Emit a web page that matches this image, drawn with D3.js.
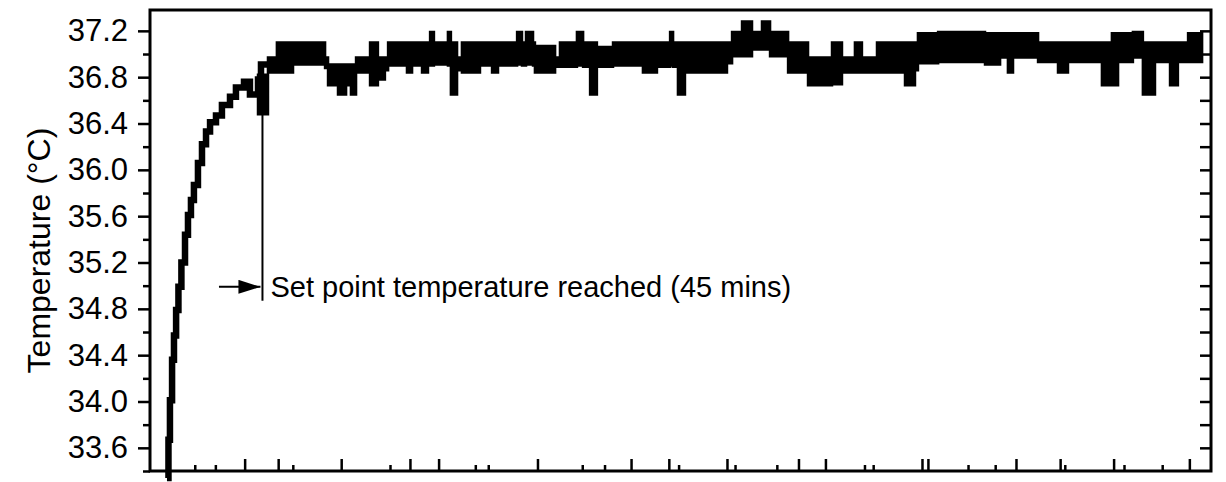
<!DOCTYPE html>
<html>
<head>
<meta charset="utf-8">
<script src="https://cdn.jsdelivr.net/npm/d3@7"></script>
<style>
    body { margin: 0; background: #fff; }
    svg { display: block; font-family: "Liberation Sans", Arial, Helvetica, sans-serif; }
</style>
</head>
<body>
<div id="chart"></div>
<script>
const WIDTH = 1226, HEIGHT = 482;
const MARGIN = { top: 10, right: 15, bottom: 11, left: 150 };
const INNER_WIDTH = WIDTH - MARGIN.left - MARGIN.right;
const INNER_HEIGHT = HEIGHT - MARGIN.top - MARGIN.bottom;

// time axis in minutes, temperature in °C
const X_DOMAIN = [-8, 492];
const Y_DOMAIN = [33.4, 37.38];

// warm-up curve
const riseTime = [0, 0.7, 1.4, 2.4, 3.3, 4.3, 5.4, 6.8, 8.5, 9.9, 11.3, 12.7, 14.6, 16.5, 18.4, 20.3, 23.1, 25.9, 29.7, 32.5, 36.3, 39.1, 42.9, 44.3, 47.6];
const riseTemp = [33.34, 33.67, 34.01, 34.36, 34.57, 34.79, 34.99, 35.20, 35.44, 35.61, 35.74, 35.87, 36.06, 36.22, 36.33, 36.41, 36.47, 36.56, 36.63, 36.71, 36.76, 36.65, 36.78, 36.91, 36.92];

// plateau: reading toggles between a high and a low value in each step
const plateauTime = [
    42.9, 47.6, 51.8, 59.4, 74.5, 75.9, 80.6, 84.4, 86.7, 89.1,
    95.7, 99.4, 102.7, 104.2, 113.1, 115.5, 120.2, 123.0, 124.0, 125.8,
    132.4, 133.8, 136.7, 139.0, 147.5, 153.2, 156.0, 165.0, 167.3, 169.2,
    172.5, 173.4, 182.9, 185.2, 193.2, 196.1, 199.4, 202.6, 210.2, 224.3,
    230.9, 237.1, 238.5, 240.8, 244.1, 263.9, 266.3, 271.0, 275.7, 280.4,
    284.2, 292.7, 302.1, 313.4, 318.1, 324.2, 327.5, 334.6, 347.8, 352.5,
    353.9, 363.4, 385.5, 392.6, 396.3, 398.7, 410.5, 419.9, 424.6, 440.6,
    445.3, 448.2, 455.2, 459.9, 465.6, 472.7, 476.4, 481.2, 487.8
];
const plateauHigh = [
    36.82, 36.97, 37.10, 37.10, 36.97, 36.91, 36.91, 36.91, 36.91, 36.97,
    37.10, 36.97, 36.97, 37.10, 37.10, 37.10, 37.10, 37.10, 37.19, 37.10,
    37.19, 37.10, 36.97, 37.10, 37.10, 37.10, 37.10, 37.19, 37.10, 37.19,
    37.10, 37.07, 36.97, 37.10, 37.19, 37.10, 37.10, 37.06, 37.10, 37.10,
    37.10, 37.19, 37.10, 37.10, 37.10, 37.10, 37.19, 37.28, 37.19, 37.28,
    37.19, 37.10, 36.97, 37.10, 36.97, 37.10, 36.97, 37.10, 37.10, 37.10,
    37.18, 37.19, 37.18, 37.18, 37.18, 37.18, 37.10, 37.10, 37.10, 37.10,
    37.18, 37.18, 37.19, 37.10, 37.10, 37.10, 37.10, 37.18, 37.18
];
const plateauLow = [
    36.48, 36.84, 36.84, 36.91, 36.88, 36.73, 36.65, 36.73, 36.65, 36.84,
    36.73, 36.78, 36.86, 36.90, 36.84, 36.90, 36.84, 36.90, 36.90, 36.91,
    36.90, 36.65, 36.86, 36.84, 36.90, 36.84, 36.90, 36.91, 36.90, 36.91,
    36.90, 36.84, 36.89, 36.89, 36.90, 36.89, 36.65, 36.89, 36.90, 36.84,
    36.89, 36.90, 36.89, 36.65, 36.84, 36.92, 36.98, 36.98, 37.04, 37.04,
    36.98, 36.84, 36.73, 36.74, 36.84, 36.84, 36.84, 36.84, 36.73, 36.86,
    36.92, 36.93, 36.91, 36.97, 36.84, 36.97, 36.93, 36.84, 36.93, 36.73,
    36.73, 36.93, 36.97, 36.65, 36.93, 36.73, 36.93, 36.93, 36.93
];

// tick positions
const yMajorTicks = [33.6, 34.0, 34.4, 34.8, 35.2, 35.6, 36.0, 36.4, 36.8, 37.2];
const yMinorTicks = [33.4, 33.8, 34.2, 34.6, 35.0, 35.4, 35.8, 36.2, 36.6, 37.0];
const yRightTicks = [33.6, 33.8, 34.0, 34.2, 34.4, 34.6, 34.8, 35.0, 35.2, 35.4, 35.6, 35.8, 36.0, 36.2, 36.4, 36.6, 36.8, 37.0, 37.2];
const xLongTicks = [36.6, 52.4, 82.1, 114.5, 128.0, 174.6, 218.7, 236.5, 263.9, 297.6, 310.3, 355.8, 358.6, 400.1, 420.9, 446.1, 481.8];
const xShortTicks = [13.1, 22.8, 59.3, 105.1, 145.3, 151.4, 195.7, 206.2, 241.1, 267.7, 287.4, 328.7, 332.8, 377.5, 390.3, 423.1, 451.0, 469.0];

// annotation
const setPointTime = 45;
const setPointTop = 36.92;
const setPointBottom = 34.87;
const arrowTemp = 34.99;
const arrowFrom = 24.5;
const annotationText = "Set point temperature reached (45 mins)";
const yLabel = "Temperature (°C)";

const svg = d3.select("#chart")
    .append("svg")
    .attr("width", WIDTH)
    .attr("height", HEIGHT)
    .append("g")
    .attr("transform", `translate(${MARGIN.left},${MARGIN.top})`);

const x = d3.scaleLinear().domain(X_DOMAIN).range([0, INNER_WIDTH]);
const y = d3.scaleLinear().domain(Y_DOMAIN).range([INNER_HEIGHT, 0]);

// --- Axes ---
const yMajor = svg.append("g")
    .call(d3.axisLeft(y).tickValues(yMajorTicks).tickSize(12).tickPadding(10).tickFormat(d3.format(".1f")));
yMajor.selectAll("text").style("font-size", "31px").attr("fill", "#000");

svg.append("g")
    .call(d3.axisLeft(y).tickValues(yMinorTicks).tickSize(7).tickFormat(""));

svg.append("g")
    .attr("transform", `translate(${INNER_WIDTH},0)`)
    .call(d3.axisRight(y).tickValues(yRightTicks).tickSize(-11).tickFormat(""));

svg.append("g")
    .attr("transform", `translate(0,${INNER_HEIGHT})`)
    .call(d3.axisBottom(x).tickValues(xLongTicks).tickSize(-12).tickFormat(""));

svg.append("g")
    .attr("transform", `translate(0,${INNER_HEIGHT})`)
    .call(d3.axisBottom(x).tickValues(xShortTicks).tickSize(-6).tickFormat(""));

svg.selectAll(".domain").remove();
svg.selectAll(".tick line").attr("stroke", "#000").attr("stroke-width", 2.5);

// frame
svg.append("rect")
    .attr("x", 0).attr("y", 0)
    .attr("width", INNER_WIDTH).attr("height", INNER_HEIGHT)
    .attr("fill", "none")
    .attr("stroke", "#000")
    .attr("stroke-width", 3);

// --- Plateau band ---
const plateau = plateauTime.map((t, i) => ({ t, hi: plateauHigh[i], lo: plateauLow[i] }));
const band = d3.area()
    .curve(d3.curveStepAfter)
    .x(d => x(d.t))
    .y0(d => y(d.lo))
    .y1(d => y(d.hi));

svg.append("path")
    .datum(plateau)
    .attr("fill", "#000")
    .attr("stroke", "#000")
    .attr("stroke-width", 2.5)
    .attr("d", band);

// --- Warm-up line ---
const rise = riseTime.map((t, i) => ({ t, v: riseTemp[i] }));
const line = d3.line()
    .curve(d3.curveStepAfter)
    .x(d => x(d.t))
    .y(d => y(d.v));

svg.append("path")
    .datum(rise)
    .attr("fill", "none")
    .attr("stroke", "#000")
    .attr("stroke-width", 6.5)
    .attr("d", line);

// --- Annotation ---
svg.append("defs").append("marker")
    .attr("id", "head")
    .attr("markerUnits", "userSpaceOnUse")
    .attr("markerWidth", 22).attr("markerHeight", 14)
    .attr("refX", 22).attr("refY", 7)
    .attr("orient", "auto")
    .append("path")
    .attr("d", "M0,0 L22,7 L0,14 Z")
    .attr("fill", "#000");

svg.append("line")
    .attr("x1", x(setPointTime)).attr("x2", x(setPointTime))
    .attr("y1", y(setPointTop)).attr("y2", y(setPointBottom))
    .attr("stroke", "#000")
    .attr("stroke-width", 2);

svg.append("line")
    .attr("x1", x(arrowFrom)).attr("x2", x(setPointTime) - 2)
    .attr("y1", y(arrowTemp)).attr("y2", y(arrowTemp))
    .attr("stroke", "#000")
    .attr("stroke-width", 2)
    .attr("marker-end", "url(#head)");

svg.append("text")
    .attr("x", x(setPointTime) + 8)
    .attr("y", y(arrowTemp))
    .attr("dy", "0.36em")
    .style("font-size", "29px")
    .text(annotationText);

// --- Axis label ---
svg.append("text")
    .attr("x", -INNER_HEIGHT / 2 - 10)
    .attr("y", -100)
    .attr("transform", "rotate(-90)")
    .attr("text-anchor", "middle")
    .style("font-size", "32px")
    .text(yLabel);
</script>
</body>
</html>
